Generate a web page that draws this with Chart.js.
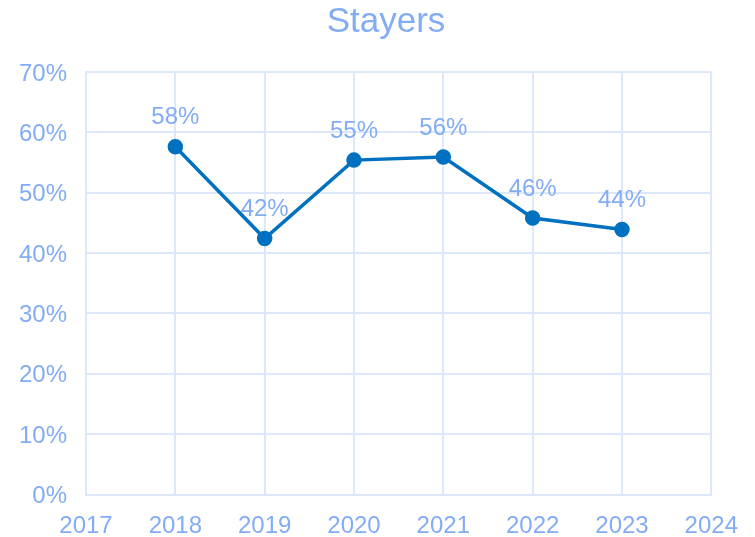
<!DOCTYPE html>
<html>
<head>
<meta charset="utf-8">
<script src="https://cdn.jsdelivr.net/npm/chart.js@4"></script>
<style>
  html, body { margin: 0; padding: 0; background: #fff; }
  #wrap { width: 755px; height: 537px; }
</style>
</head>
<body>
<div id="wrap"><canvas id="stayersChart" width="755" height="537"></canvas></div>
<script>
const years = [2018, 2019, 2020, 2021, 2022, 2023];
const stayers = [0.576, 0.424, 0.554, 0.559, 0.458, 0.439];
const titleText = "Stayers";

const textColor = "#82ACF4";
const gridColor = "#DDE8FB";
const lineColor = "#0070C0";

// title + value labels drawn on top of the chart
const labelsPlugin = {
    id: "labelsPlugin",
    afterDatasetsDraw: (chart) => {
        const { ctx } = chart;
        ctx.save();
        ctx.font = "24px 'Liberation Sans', Arial, sans-serif";
        ctx.fillStyle = textColor;
        ctx.textAlign = "center";
        ctx.textBaseline = "middle";
        chart.getDatasetMeta(0).data.forEach((pt, i) => {
            const pct = Math.round(stayers[i] * 100) + "%";
            ctx.fillText(pct, pt.x, pt.y - 29);
        });
        ctx.font = "35px 'Liberation Sans', Arial, sans-serif";
        ctx.textBaseline = "alphabetic";
        ctx.fillText(titleText, 386, 32);
        ctx.restore();
    },
};

const ctx = document.getElementById("stayersChart").getContext("2d");
const chart = new Chart(ctx, {
    type: "line",
    data: {
        datasets: [
            {
                label: titleText,
                data: years.map((y, i) => ({ x: y, y: stayers[i] })),
                borderColor: lineColor,
                backgroundColor: lineColor,
                borderWidth: 3.5,
                pointRadius: 6,
                pointBackgroundColor: lineColor,
                pointBorderColor: lineColor,
                tension: 0,
            },
        ],
    },
    options: {
        responsive: false,
        animation: false,
        layout: {
            padding: { top: 72, right: 43, left: 0, bottom: 0 },
        },
        scales: {
            x: {
                type: "linear",
                min: 2017,
                max: 2024,
                ticks: {
                    stepSize: 1,
                    color: textColor,
                    padding: 17,
                    font: { family: "'Liberation Sans', Arial", size: 24 },
                    callback: (v) => String(v),
                },
                grid: { color: gridColor, lineWidth: 2, drawTicks: false },
                border: { color: gridColor, width: 2 },
                afterFit: (s) => { s.height = 42.5; },
            },
            y: {
                min: 0,
                max: 0.7,
                ticks: {
                    stepSize: 0.1,
                    color: textColor,
                    padding: 19,
                    labelOffset: 2,
                    font: { family: "'Liberation Sans', Arial", size: 24 },
                    callback: (v) => Math.round(v * 100) + "%",
                },
                grid: { color: gridColor, lineWidth: 2, drawTicks: false },
                border: { color: gridColor, width: 2 },
                afterFit: (s) => { s.width = 86; },
            },
        },
        plugins: {
            legend: { display: false },
            tooltip: { enabled: false },
        },
    },
    plugins: [labelsPlugin],
});
</script>
</body>
</html>
